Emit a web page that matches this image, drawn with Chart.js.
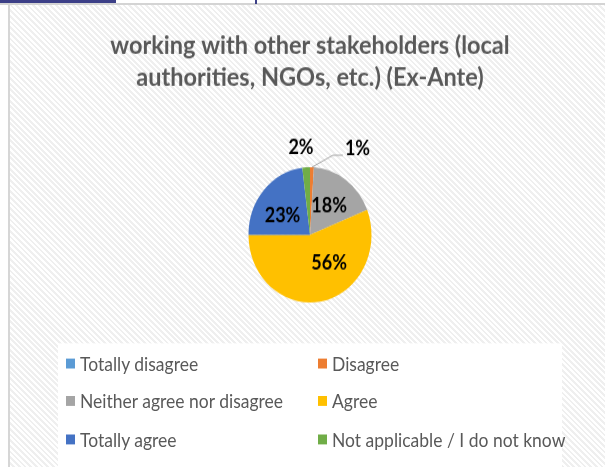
<!DOCTYPE html>
<html>
<head>
<meta charset="utf-8">
<script src="https://cdn.jsdelivr.net/npm/chart.js@4.4.1/dist/chart.umd.min.js"></script>
<style>
    html, body { margin: 0; padding: 0; }
    body {
        width: 605px; height: 467px; overflow: hidden; position: relative;
        background: #fff;
    }
    #frame {
        position: absolute; left: 8px; top: 4px; right: 0; bottom: 0;
        border-left: 2px solid #d6d6d6;
        background: repeating-linear-gradient(45deg, #ffffff 0 2px, #efefef 2px 4px);
    }
    #topline { position: absolute; left: 0; top: 3px; width: 605px; height: 2px; background: #d4d4d4; }
    #tab { position: absolute; left: 0; top: 0; width: 116px; height: 3px; background: #3c3f87; }
    #tick { position: absolute; left: 255px; top: 0; width: 2px; height: 4px; background: #3c3f87; }
    #stage {
        position: absolute; left: 0; top: 0; width: 605px; height: 425px;
        transform: scaleY(1.1); transform-origin: 0 0;
    }
    #chart { position: absolute; left: 0; top: 0; }
    #legendBox {
        position: absolute; left: 58px; top: 312px; width: 504px; height: 113px;
        background: #fff;
    }
    #legend {
        position: absolute; left: 66px; top: 313px;
        display: grid; grid-template-columns: 252px 240px; grid-auto-rows: 34.5px;
        font-family: Lato, sans-serif; font-size: 17.5px; color: #595959;
    }
    #legend .item { display: flex; align-items: center; white-space: nowrap; }
    #legend .box { width: 9px; height: 9px; margin-right: 5px; flex: none; }
</style>
</head>
<body>
<div id="frame"></div>
<div id="topline"></div>
<div id="tab"></div>
<div id="tick"></div>
<div id="stage">
    <canvas id="chart" width="605" height="425"></canvas>
    <div id="legendBox"></div>
    <div id="legend"></div>
</div>
<script>
const categories = [
    'Totally disagree',
    'Disagree',
    'Neither agree nor disagree',
    'Agree',
    'Totally agree',
    'Not applicable / I do not know'
];
const shares = [0, 1, 18, 56, 23, 2];
const colors = ['#5B9BD5', '#ED7D31', '#A5A5A5', '#FFC000', '#4472C4', '#70AD47'];
const titleLines = ['working with other stakeholders (local', 'authorities, NGOs, etc.) (Ex-Ante)'];

// small placement tweaks for the percent labels (Excel best-fit look)
const labelNudge = { 'Disagree': [45, 2], 'Agree': [13, -6], 'Totally agree': [-3, 4], 'Not applicable / I do not know': [-4, 0] };

const percentLabels = {
    id: 'percentLabels',
    afterDatasetsDraw(chart) {
        const ctx = chart.ctx;
        const meta = chart.getDatasetMeta(0);
        const data = chart.data.datasets[0].data;
        const total = data.reduce((a, b) => a + b, 0);
        ctx.save();
        ctx.font = 'bold 18px Lato, sans-serif';
        ctx.fillStyle = '#000';
        ctx.textAlign = 'center';
        ctx.textBaseline = 'middle';
        meta.data.forEach((arc, i) => {
            if (!data[i]) return;
            const p = arc.getProps(['x', 'y', 'startAngle', 'endAngle', 'outerRadius'], true);
            const mid = (p.startAngle + p.endAngle) / 2;
            const pct = data[i] / total * 100;
            const outside = pct < 5;
            const r = outside ? p.outerRadius * 1.3 : p.outerRadius * 0.53;
            const nudge = labelNudge[chart.data.labels[i]] || [0, 0];
            const lx = p.x + Math.cos(mid) * r + nudge[0];
            const ly = p.y + Math.sin(mid) * r + nudge[1];
            const text = Math.round(pct) + '%';
            ctx.fillText(text, lx, ly);
            if (outside && Math.abs(nudge[0]) > 20) {
                const w = ctx.measureText(text).width;
                const ex = p.x + Math.cos(mid) * p.outerRadius;
                const ey = p.y + Math.sin(mid) * p.outerRadius;
                ctx.strokeStyle = '#a6a6a6';
                ctx.lineWidth = 1;
                ctx.beginPath();
                ctx.moveTo(ex, ey);
                ctx.lineTo(lx - w / 2 - 12, ly + 5.5);
                ctx.lineTo(lx - w / 2 - 2, ly + 5.5);
                ctx.stroke();
            }
        });
        ctx.restore();
    }
};

const chart = new Chart(document.getElementById('chart'), {
    type: 'pie',
    data: {
        labels: categories,
        datasets: [{
            data: shares,
            backgroundColor: colors,
            borderWidth: 0,
            hoverOffset: 0,
            radius: 61.5
        }]
    },
    options: {
        responsive: false,
        animation: false,
        devicePixelRatio: 1,
        layout: { padding: { left: 15, right: 0, top: 0, bottom: 138 } },
        plugins: {
            legend: { display: false },
            tooltip: { enabled: false },
            title: {
                display: true,
                text: titleLines,
                color: '#595959',
                font: { family: 'Lato', size: 23.5, weight: 'bold', lineHeight: 29 / 23.5 },
                padding: { top: 26.5, bottom: 55.5 }
            }
        }
    },
    plugins: [percentLabels]
});

// legend in two columns, built from the chart's own legend items
const legendEl = document.getElementById('legend');
chart.options.plugins.legend.labels.generateLabels(chart).forEach(item => {
    const div = document.createElement('div');
    div.className = 'item';
    div.innerHTML = '<span class="box" style="background:' + item.fillStyle + '"></span><span>' + item.text + '</span>';
    legendEl.appendChild(div);
});
</script>
</body>
</html>
